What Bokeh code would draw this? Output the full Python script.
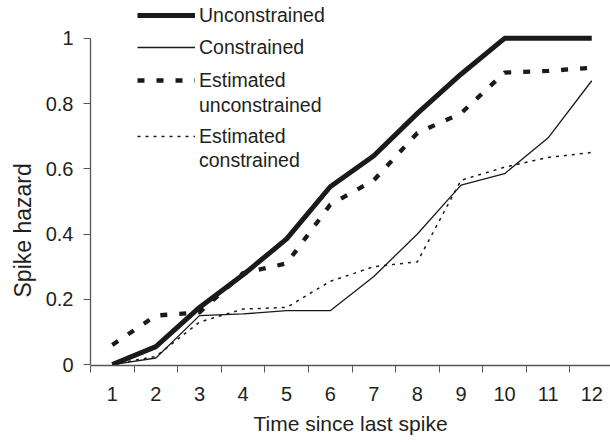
from bokeh.plotting import figure
from bokeh.models import FixedTicker, Legend, LegendItem, Range1d, Title
from bokeh.embed import file_html
from bokeh.resources import INLINE

# ---- data ----
time_since_spike = [1, 2, 3, 4, 5, 6, 7, 8, 9, 10, 11, 12]
tick_labels = ["1", "2", "3", "4", "5", "6", "7", "8", "9", "10", "11", "12"]
unconstrained = [0.0, 0.055, 0.175, 0.275, 0.385, 0.545, 0.64, 0.77, 0.89, 1.0, 1.0, 1.0]
constrained = [0.0, 0.02, 0.15, 0.155, 0.165, 0.165, 0.27, 0.40, 0.55, 0.585, 0.695, 0.87]
est_unconstrained = [0.06, 0.15, 0.16, 0.28, 0.31, 0.49, 0.565, 0.71, 0.77, 0.895, 0.90, 0.91]
est_constrained = [0.0, 0.025, 0.13, 0.17, 0.175, 0.255, 0.30, 0.315, 0.565, 0.605, 0.635, 0.65]
y_ticks = [0, 0.2, 0.4, 0.6, 0.8, 1]
y_tick_labels = ["0", "0.2", "0.4", "0.6", "0.8", "1"]

FONT = "Liberation Sans"
TXT = "#231f20"
INK = "#1a1a1a"
AX = "#555555"

p = figure(width=610, height=442, output_backend="svg", toolbar_location=None,
           x_range=Range1d(0.5, 12.43), y_range=Range1d(-0.003, 1.116),
           min_border_left=90, min_border_right=0, min_border_top=0, min_border_bottom=77)
p.outline_line_color = None
p.xgrid.visible = False
p.ygrid.visible = False

r_unc = p.line(time_since_spike, unconstrained, line_color=INK, line_width=5, line_join="round")
r_con = p.line(time_since_spike, constrained, line_color=INK, line_width=1.3)
r_eunc = p.line(time_since_spike, est_unconstrained, line_color=INK, line_width=4.3, line_dash="7 12")
r_econ = p.line(time_since_spike, est_constrained, line_color=INK, line_width=1.5, line_dash="3 5")

# x axis: labels at category centres, tick marks at boundaries
xa = p.xaxis[0]
xa.ticker = FixedTicker(ticks=time_since_spike,
                        minor_ticks=[t - 0.5 for t in time_since_spike] + [12.5])
xa.major_label_overrides = {t: s for t, s in zip(time_since_spike, tick_labels)}
xa.major_tick_out = 0
xa.major_tick_in = 0
xa.minor_tick_out = 7
xa.minor_tick_in = 0
xa.minor_tick_line_color = AX
xa.axis_line_color = AX
xa.axis_line_width = 1.3
xa.major_label_text_font = FONT
xa.major_label_text_font_size = "20px"
xa.major_label_text_color = TXT
xa.major_label_standoff = 14
xa.axis_label = "Time since last spike"
xa.axis_label_text_font = FONT
xa.axis_label_text_font_size = "21px"
xa.axis_label_text_font_style = "normal"
xa.axis_label_text_color = TXT
xa.axis_label_standoff = 8

ya = p.yaxis[0]
ya.ticker = FixedTicker(ticks=y_ticks)
ya.major_label_overrides = {t: s for t, s in zip(y_ticks, y_tick_labels)}
ya.bounds = (0, 1)
ya.major_tick_out = 7
ya.major_tick_in = 0
ya.minor_tick_out = 0
ya.minor_tick_in = 0
ya.major_tick_line_color = AX
ya.axis_line_color = AX
ya.axis_line_width = 1.3
ya.major_label_text_font = FONT
ya.major_label_text_font_size = "20px"
ya.major_label_text_color = TXT
ya.major_label_standoff = 10

# y-axis title as a left-side title, placed a little below the frame centre
p.add_layout(Title(text="Spike hazard", align="left", offset=68, standoff=14,
                   text_font=FONT, text_font_size="23px", text_font_style="normal",
                   text_color=TXT), "left")


def make_legend(items, loc, spacing):
    lg = Legend(items=items, location=loc, orientation="vertical",
                padding=0, margin=0, spacing=spacing,
                glyph_width=58, glyph_height=24, label_height=24,
                label_standoff=4, border_line_color=None,
                background_fill_alpha=0,
                label_text_font=FONT, label_text_font_size="19.5px",
                label_text_color=TXT)
    p.add_layout(lg, "center")
    return lg


make_legend([LegendItem(label="Unconstrained", renderers=[r_unc]),
             LegendItem(label="Constrained", renderers=[r_con])], (47, 306), 8)
make_legend([LegendItem(label="Estimated", renderers=[r_eunc]),
             LegendItem(label="unconstrained", renderers=[])], (47, 248), 1)
make_legend([LegendItem(label="Estimated", renderers=[r_econ]),
             LegendItem(label="constrained", renderers=[])], (47, 193), 0)

open("out.html", "w").write(file_html(p, INLINE))
